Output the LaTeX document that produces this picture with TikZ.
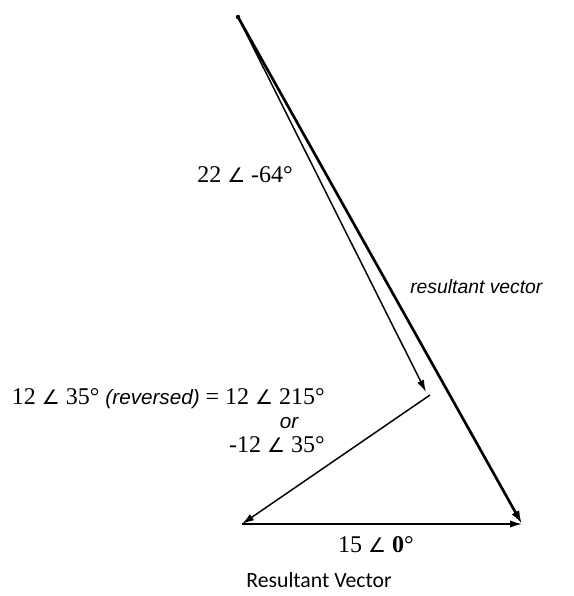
\documentclass[tikz,border=0pt]{standalone}
\usepackage{fontspec}
\setmainfont{Liberation Serif}
\newfontfamily\helv{Liberation Sans}
\newfontfamily\capf{Carlito}
\newfontfamily\symf{DejaVu Sans}
\newcommand{\ang}{{\symf\fontsize{15}{18}\selectfont ∠}}
\usetikzlibrary{arrows.meta}
\begin{document}
\begin{tikzpicture}[x=0.75pt,y=-0.75pt,
  vec/.style={line width=1.1pt,-{Latex[length=9pt,width=5.5pt]}},
  res/.style={line width=2pt,-{Latex[length=10pt,width=6.5pt]}},
  lbl/.style={inner sep=0pt,font=\fontsize{18}{18}\selectfont},
  itl/.style={inner sep=0pt,font=\fontsize{14.5}{17}\selectfont\helv\itshape},
  captext/.style={inner sep=0pt,font=\fontsize{16.3}{19}\selectfont\capf}]
\useasboundingbox (0,0) rectangle (574,596);
\coordinate (O) at (238,17);
\coordinate (A) at (426,392);
\coordinate (C) at (430,395);
\coordinate (B) at (242,524);
\coordinate (R) at (522,524);
\fill (O) circle (2.2);
\draw[vec] (O) -- (A);
\draw[vec] (C) -- (B);
\draw[vec] (B) -- (R);
\draw[res] (O) -- (R);
\node[lbl,anchor=west] (l1) at (197,175) {22 \ang{} -64°};
\node[itl,anchor=west] (l2) at (410,287) {resultant vector};
\node[lbl,anchor=east,align=right] (l3) at (325,421)
  {12 \ang{} 35° {\helv\itshape\fontsize{15.5}{18}\selectfont (reversed)} = 12 \ang{} 215°\\{\helv\itshape\fontsize{15.5}{18}\selectfont or}\kern 1.1em\\-12 \ang{} 35°};
\node[lbl] (l4) at (376,545) {15 \ang{} \textbf{0}°};
\node[captext] (caption) at (319,580) {Resultant Vector};
\end{tikzpicture}
\end{document}
